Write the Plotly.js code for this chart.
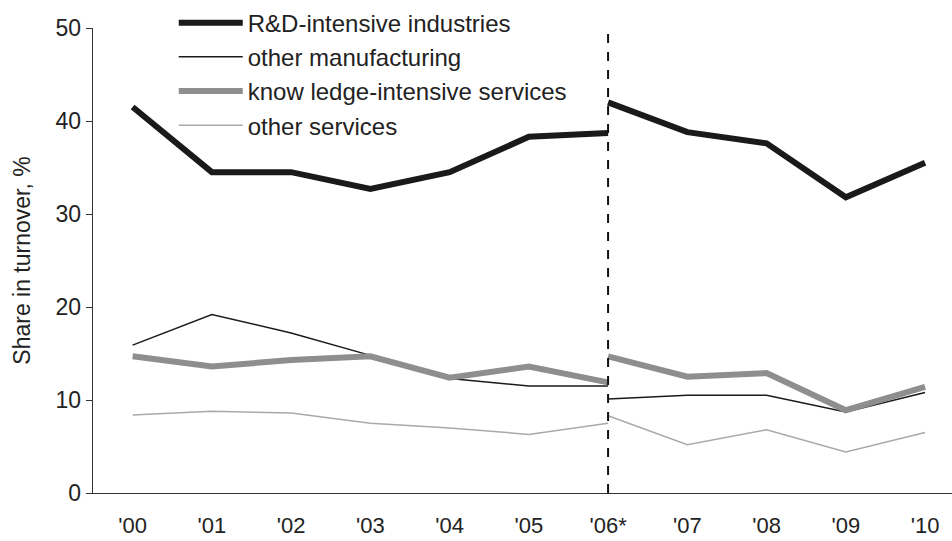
<!DOCTYPE html>
<html><head><meta charset="utf-8">
<script src="https://cdn.plot.ly/plotly-3.0.1.min.js"></script>
<style>html,body{margin:0;padding:0;background:#fff}#chart{width:952px;height:541px}</style>
</head><body><div id="chart"></div>
<script>
const categories = ["'00","'01","'02","'03","'04","'05","'06*","'07","'08","'09","'10"];
// first period '00 - '06*, second period '06* - '10 (methodological break)
const rdA   = [41.5, 34.5, 34.5, 32.7, 34.5, 38.3, 38.7];
const rdB   = [42.0, 38.8, 37.6, 31.8, 35.5];
const omA   = [15.9, 19.2, 17.2, 14.8, 12.3, 11.5, 11.5];
const omB   = [10.1, 10.5, 10.5, 8.7, 10.8];
const kisA  = [14.7, 13.6, 14.3, 14.7, 12.4, 13.6, 11.9];
const kisB  = [14.7, 12.5, 12.9, 8.9, 11.4];
const osA   = [8.4, 8.8, 8.6, 7.5, 7.0, 6.3, 7.5];
const osB   = [8.3, 5.2, 6.8, 4.4, 6.5];
const seriesNames = ["R&D-intensive industries","other manufacturing","know ledge-intensive services","other services"];
const breakIndex = 6;

const idxA = categories.slice(0, breakIndex + 1).map((_, i) => i);
const idxB = categories.slice(breakIndex).map((_, i) => i + breakIndex);

const styles = [
  {color:'#1a1a1a', width:6},
  {color:'#1a1a1a', width:1.5},
  {color:'#8e8e90', width:6},
  {color:'#a9a9a9', width:1.5}
];
const dataA = [rdA, omA, kisA, osA];
const dataB = [rdB, omB, kisB, osB];
const traces = [];
seriesNames.forEach((n, k) => {
  traces.push({x: idxA, y: dataA[k], type:'scatter', mode:'lines', name:n, legendgroup:'g'+k,
    line:{color:styles[k].color, width:styles[k].width}, showlegend:true});
  traces.push({x: idxB, y: dataB[k], type:'scatter', mode:'lines', name:n, legendgroup:'g'+k,
    line:{color:styles[k].color, width:styles[k].width}, showlegend:false});
});

const layout = {
  width:952, height:541,
  margin:{l:93, r:0, t:28, b:48},
  paper_bgcolor:'#fff', plot_bgcolor:'#fff',
  font:{family:'"Liberation Sans", Arial, sans-serif', size:23, color:'#222'},
  showlegend:true,
  legend:{x:0.094, y:1.059, xanchor:'left', yanchor:'top', bgcolor:'rgba(0,0,0,0)',
    font:{size:24, color:'#222'}, tracegroupgap:0, itemwidth:64},
  xaxis:{range:[-0.5, 10.34], tickmode:'array', tickvals:categories.map((_, i) => i), ticktext:categories,
    showgrid:false, zeroline:false, showline:true, linecolor:'#333', linewidth:1.3, ticks:'',
    ticklabelstandoff:12, tickfont:{size:22, color:'#222'}, fixedrange:true},
  yaxis:{range:[0,50], tickvals:[0,10,20,30,40,50], showgrid:false, zeroline:false, showline:true,
    linecolor:'#333', linewidth:1.3, ticks:'outside', ticklen:6, tickcolor:'#333',
    tickfont:{size:23, color:'#222'},
    title:{text:'Share in turnover, %', font:{size:23, color:'#222'}, standoff:18}},
  shapes:[{type:'line', xref:'x', yref:'y', x0:breakIndex, x1:breakIndex, y0:0, y1:50,
    line:{color:'#111', width:2, dash:'dash'}}]
};
Plotly.newPlot('chart', traces, layout, {displayModeBar:false, staticPlot:true});
</script></body></html>
